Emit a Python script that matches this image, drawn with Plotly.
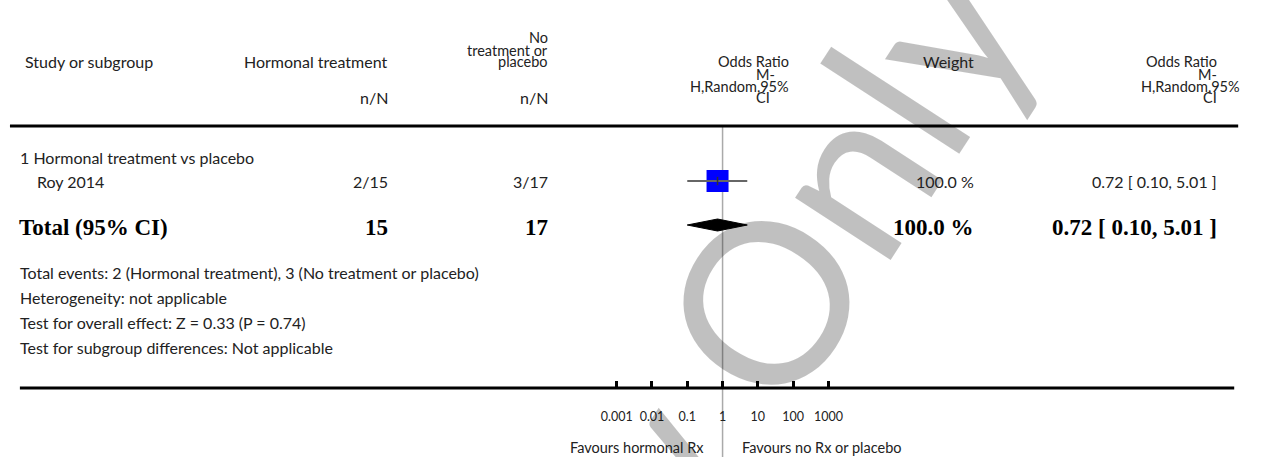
import plotly.graph_objects as go

W, H = 1268, 457

# ---------------- data ----------------
subgroup_title = "1 Hormonal treatment vs placebo"
study_names = ["Roy 2014"]
treat_events = [2]
treat_totals = [15]
ctrl_events = [3]
ctrl_totals = [17]
study_or = [0.72]
study_lo = [0.10]
study_hi = [5.01]
study_weight = [100.0]

total_treat = 15
total_ctrl = 17
total_or = 0.72
total_lo = 0.10
total_hi = 5.01
total_weight = 100.0

tick_vals = [0.001, 0.01, 0.1, 1, 10, 100, 1000]
tick_text = ["0.001", "0.01", "0.1", "1", "10", "100", "1000"]

footer_lines = [
    "Total events: 2 (Hormonal treatment), 3 (No treatment or placebo)",
    "Heterogeneity: not applicable",
    "Test for overall effect: Z = 0.33 (P = 0.74)",
    "Test for subgroup differences: Not applicable",
]
favours_left = "Favours hormonal Rx"
favours_right = "Favours no Rx or placebo"
watermark = "Review Only"

# ---------------- layout constants (pixels) ----------------
AXIS_Y = 388
ROW_SUB = 157
ROW_STUDY = 181
ROW_TOTAL = 225
FOOT_Y = [272, 297, 322, 347]
COL_T = 388
COL_C = 549
COL_W = 978
COL_OR = 1223
DEC = (830.0 - 616.7) / 6.0   # pixels per decade
X_ONE = 722.7                  # pixel of OR = 1
RANGE_HALF = 3.3

SANS = "Lato"
SERIF = "Liberation Serif"
TXT = "#222222"
FS = 16
FSH = 14.5   # stacked header lines
FSB = 23


def px(x):
    return x / W


def py(y):
    return (H - y) / H


annotations = []


def ann(text, x, y, anchor="left", size=FS, font=SANS, bold=False, color=TXT):
    annotations.append(dict(
        text=("<b>%s</b>" % text) if bold else text,
        x=px(x), y=py(y), xref="paper", yref="paper",
        xanchor=anchor, yanchor="middle", showarrow=False,
        font=dict(family=font, size=size, color=color),
    ))


# watermark (drawn first; translucent black so darker marks show through)
annotations.append(dict(
    text=watermark, x=px(631), y=py(499), xref="paper", yref="paper",
    xanchor="center", yanchor="middle", showarrow=False, textangle=-57,
    font=dict(family="Lato", size=225, color="rgba(0,0,0,0.247)"),
))

# header
ann("Study or subgroup", 18, 62)
ann("Hormonal treatment", COL_T, 62, "right")
ann("No", COL_C, 38, "right", size=FSH)
ann("treatment or", COL_C, 50, "right", size=FSH)
ann("placebo", COL_C, 62, "right", size=FSH)
ann("n/N", COL_T, 98, "right")
ann("n/N", COL_C, 98, "right")
ann("Odds Ratio", 792, 62, "right", size=FSH)
ann("M-", 778, 74, "right", size=FSH)
ann("H,Random,95%", 792, 86, "right", size=FSH)
ann("CI", 772, 98, "right", size=FSH)
ann("Weight", COL_W, 62, "right")
ann("Odds Ratio", COL_OR, 62, "right", size=FSH)
ann("M-", COL_OR, 74, "right", size=FSH)
ann("H,Random,95%", 1246, 86, "right", size=FSH)
ann("CI", COL_OR, 98, "right", size=FSH)

# rows
ann(subgroup_title, 13, ROW_SUB)
for i, name in enumerate(study_names):
    ann(name, 30, ROW_STUDY)
    ann("%d/%d" % (treat_events[i], treat_totals[i]), COL_T, ROW_STUDY, "right")
    ann("%d/%d" % (ctrl_events[i], ctrl_totals[i]), COL_C, ROW_STUDY, "right")
    ann("%.1f %%" % study_weight[i], COL_W, ROW_STUDY, "right")
    ann("%.2f [ %.2f, %.2f ]" % (study_or[i], study_lo[i], study_hi[i]), COL_OR, ROW_STUDY, "right")

ann("Total (95% CI)", 12, ROW_TOTAL + 2, size=FSB, font=SERIF, bold=True, color="#000")
ann(str(total_treat), COL_T, ROW_TOTAL + 2, "right", size=FSB, font=SERIF, bold=True, color="#000")
ann(str(total_ctrl), COL_C, ROW_TOTAL + 2, "right", size=FSB, font=SERIF, bold=True, color="#000")
ann("%.1f %%" % total_weight, COL_W, ROW_TOTAL + 2, "right", size=FSB, font=SERIF, bold=True, color="#000")
ann("%.2f [ %.2f, %.2f ]" % (total_or, total_lo, total_hi), COL_OR, ROW_TOTAL + 2, "right",
    size=FSB, font=SERIF, bold=True, color="#000")

for text, y in zip(footer_lines, FOOT_Y):
    ann(text, 13, y)

ann(favours_left, 706, 447, "right", size=14.5)
ann(favours_right, 740, 447, "left", size=14.5)

fig = go.Figure()

# study CI lines + squares
for i in range(len(study_names)):
    fig.add_trace(go.Scatter(
        x=[study_or[i]], y=[ROW_STUDY], mode="markers",
        marker=dict(symbol="square", size=22, color="#0000ff", line=dict(width=0)),
        hoverinfo="skip", showlegend=False,
    ))
    fig.add_trace(go.Scatter(
        x=[study_lo[i], study_hi[i]], y=[ROW_STUDY, ROW_STUDY], mode="lines",
        line=dict(color="#666666", width=2), hoverinfo="skip", showlegend=False,
    ))
    fig.add_trace(go.Scatter(
        x=[study_or[i]], y=[ROW_STUDY], mode="markers",
        marker=dict(symbol="line-ns", size=6, line=dict(color="#333", width=1.5)),
        hoverinfo="skip", showlegend=False,
    ))

# total diamond
DH = 6
fig.add_trace(go.Scatter(
    x=[total_lo, total_or, total_hi, total_or, total_lo],
    y=[ROW_TOTAL, ROW_TOTAL - DH, ROW_TOTAL, ROW_TOTAL + DH, ROW_TOTAL],
    mode="lines", fill="toself", fillcolor="#000000",
    line=dict(color="#000000", width=1), hoverinfo="skip", showlegend=False,
))

shapes = [
    # reference line at OR = 1
    dict(type="line", xref="x", yref="paper", x0=1, x1=1, y0=0, y1=py(126),
         line=dict(color="#aaaaaa", width=1.5), layer="below"),
    # header rule
    dict(type="line", xref="paper", yref="paper", x0=px(5), x1=px(1242), y0=py(126), y1=py(126),
         line=dict(color="#000000", width=3)),
    # bottom axis rule
    dict(type="line", xref="paper", yref="paper", x0=px(15), x1=px(1238), y0=py(AXIS_Y), y1=py(AXIS_Y),
         line=dict(color="#000000", width=3)),
]

fig.update_layout(
    width=W, height=H,
    margin=dict(l=0, r=0, t=0, b=0),
    paper_bgcolor="white", plot_bgcolor="rgba(0,0,0,0)",
    showlegend=False,
    annotations=annotations,
    shapes=shapes,
    xaxis=dict(
        type="log",
        domain=[(X_ONE - RANGE_HALF * DEC) / W, (X_ONE + RANGE_HALF * DEC) / W],
        range=[-RANGE_HALF, RANGE_HALF],
        tickvals=tick_vals, ticktext=tick_text,
        ticks="inside", ticklen=7, tickwidth=2.5, tickcolor="#000",
        showline=False, showgrid=False, zeroline=False,
        tickfont=dict(family=SANS, size=12.5, color=TXT),
        ticklabelstandoff=19, fixedrange=True,
    ),
    yaxis=dict(
        domain=[py(AXIS_Y), 1], range=[AXIS_Y, 0], visible=False, fixedrange=True,
    ),
)

fig.write_html("out.html")
